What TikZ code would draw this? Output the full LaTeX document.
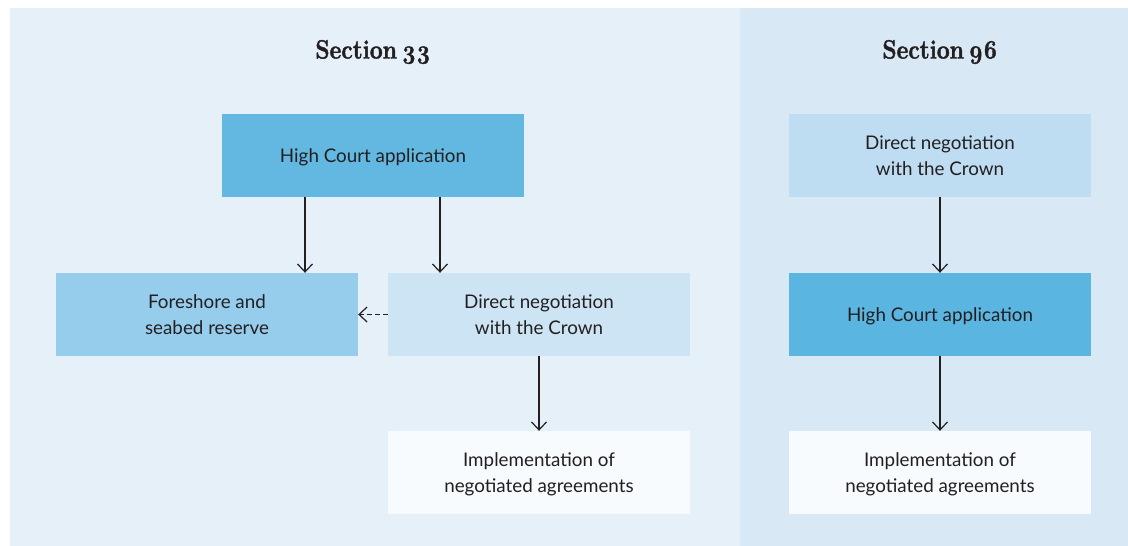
\documentclass[tikz,border=0pt]{standalone}
\usepackage{fontspec}
\setmainfont{Lato}
\newfontfamily\titlefont{Latin Modern Roman}[Numbers=OldStyle, FakeStretch=0.86, FakeBold=1.5]
\usetikzlibrary{arrows.meta}
\definecolor{panelL}{HTML}{E5F0F9}
\definecolor{panelR}{HTML}{D8E8F5}
\definecolor{hcL}{HTML}{62B8E0}
\definecolor{hcR}{HTML}{5BB5E1}
\definecolor{fore}{HTML}{97CDEC}
\definecolor{dnL}{HTML}{CDE4F4}
\definecolor{dnR}{HTML}{BEDDF2}
\definecolor{impl}{HTML}{F7FBFE}
\definecolor{ink}{HTML}{231F20}
\tikzset{
  box/.style={minimum width=302pt, minimum height=83pt, inner sep=0pt, align=center,
    text depth=0pt, font=\fontsize{18.8pt}{26pt}\selectfont, text=ink},
  title/.style={font=\titlefont\bfseries\fontsize{26.5pt}{30pt}\selectfont, text=ink},
  arr/.style={-{Straight Barb[length=8pt,width=15pt]}, line width=1.2pt, draw=ink},
}
\begin{document}
\begin{tikzpicture}[x=1pt,y=-1pt]
\useasboundingbox (0,0) rectangle (1128,546);
\fill[white] (0,0) rectangle (1128,546);
\fill[panelL] (10,8) rectangle (740,546);
\fill[panelR] (740,8) rectangle (1128,546);
\node[title] (t1) at (373,52) {Section\hspace{0.18em}33};
\node[title] (t2) at (940,52) {Section\hspace{0.18em}96};
\node[box, fill=hcL] (hc1) at (373,155.5) {High Court application};
\node[box, fill=fore] (fs) at (207,314.5) {Foreshore and\\seabed reserve};
\node[box, fill=dnL] (dn1) at (539,314.5) {Direct negotiation\\with the Crown};
\node[box, fill=impl] (im1) at (539,472.5) {Implementation of\\negotiated agreements};
\node[box, fill=dnR] (dn2) at (940,155.5) {Direct negotiation\\with the Crown};
\node[box, fill=hcR] (hc2) at (940,314.5) {High Court application};
\node[box, fill=impl] (im2) at (940,472.5) {Implementation of\\negotiated agreements};
\draw[arr] (hc1.south -| 305,0) -- (fs.north -| 305,0);
\draw[arr] (hc1.south -| 440,0) -- (dn1.north -| 440,0);
\draw[arr] (dn1.south) -- (im1.north);
\draw[arr, dashed, dash pattern=on 5pt off 3pt] (dn1.west) -- (fs.east);
\draw[arr] (dn2.south) -- (hc2.north);
\draw[arr] (hc2.south) -- (im2.north);
\end{tikzpicture}
\end{document}
